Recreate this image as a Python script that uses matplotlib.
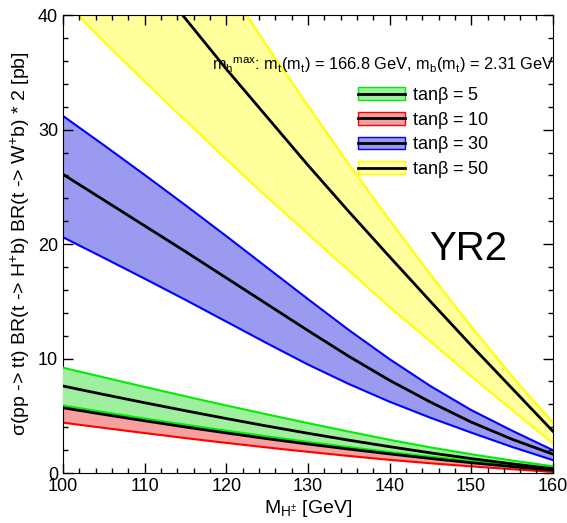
import matplotlib
matplotlib.use("Agg")
import matplotlib.pyplot as plt
from matplotlib.patches import Patch
from matplotlib.lines import Line2D
from matplotlib.legend_handler import HandlerTuple
from matplotlib.ticker import MultipleLocator

plt.rcParams['font.family'] = ['Liberation Sans', 'DejaVu Sans']
plt.rcParams['mathtext.default'] = 'regular'

# charged Higgs mass [GeV]
mass = [100, 105, 110, 115, 120, 125, 130, 135, 140, 145, 150, 155, 160]

# tanb = 5
tb5_mid = [7.6, 6.86, 6.14, 5.44, 4.76, 4.1, 3.47, 2.87, 2.3, 1.76, 1.26, 0.8, 0.38]
tb5_up = [9.2, 8.36, 7.52, 6.7, 5.9, 5.12, 4.36, 3.62, 2.9, 2.24, 1.64, 1.09, 0.59]
tb5_lo = [5.9, 5.32, 4.76, 4.22, 3.7, 3.2, 2.72, 2.26, 1.83, 1.43, 1.05, 0.7, 0.38]

# tanb = 10
tb10_mid = [5.7, 5.12, 4.56, 4.02, 3.5, 3.0, 2.53, 2.09, 1.67, 1.27, 0.9, 0.56, 0.25]
tb10_up = [6.85, 6.15, 5.5, 4.85, 4.2, 3.6, 3.05, 2.5, 2.0, 1.5, 1.08, 0.67, 0.3]
tb10_lo = [4.4, 3.94, 3.49, 3.05, 2.63, 2.23, 1.85, 1.49, 1.15, 0.85, 0.58, 0.33, 0.1]

# tanb = 30
tb30_mid = [26.1, 23.85, 21.6, 19.35, 17.05, 14.75, 12.45, 10.2, 8.1, 6.2, 4.45, 2.95, 1.65]
tb30_up = [31.2, 28.65, 26.05, 23.4, 20.7, 17.95, 15.2, 12.5, 9.95, 7.6, 5.5, 3.7, 2.0]
tb30_lo = [20.6, 18.8, 16.98, 15.13, 13.23, 11.33, 9.48, 7.78, 6.23, 4.83, 3.53, 2.28, 1.13]

# tanb = 50
tb50_mid = [53.1, 48.6, 44.1, 39.7, 35.3, 31.1, 26.9, 22.85, 18.9, 15.0, 11.15, 7.4, 3.65]
tb50_up = [66.2, 60.1, 54.1, 48.3, 42.7, 37.3, 32.1, 27.0, 22.1, 17.35, 12.8, 8.45, 4.4]
tb50_lo = [41.3, 37.7, 34.2, 30.8, 27.4, 24.1, 20.9, 17.7, 14.5, 11.5, 8.45, 5.5, 2.6]

labels = [r'tan$\beta$ = 5', r'tan$\beta$ = 10', r'tan$\beta$ = 30', r'tan$\beta$ = 50']

fig = plt.figure(figsize=(5.67, 5.23), dpi=100)
ax = fig.add_axes([0.111, 0.0956, 0.864, 0.8754])

# draw order: red under green so the red band only shows below the green one
series = [
    (tb10_lo, tb10_mid, tb10_up, '#ff0000', '#f7a0a0', 1),
    (tb5_lo, tb5_mid, tb5_up, '#00ee00', '#9ef09e', 3),
    (tb30_lo, tb30_mid, tb30_up, '#0000ff', '#9a9af0', 1),
    (tb50_lo, tb50_mid, tb50_up, '#ffff00', '#ffff9c', 1),
]
for lo, mid, up, edge, fill, z in series:
    ax.fill_between(mass, lo, up, facecolor=fill, edgecolor='none', zorder=z)
    ax.plot(mass, lo, color=edge, lw=1.5, zorder=z + 0.5)
    ax.plot(mass, up, color=edge, lw=1.5, zorder=z + 0.5)

for lo, mid, up, edge, fill, z in series:
    ax.plot(mass, mid, color='black', lw=2, zorder=6)

ax.set_xlim(100, 160)
ax.set_ylim(0, 40)
ax.xaxis.set_major_locator(MultipleLocator(10))
ax.xaxis.set_minor_locator(MultipleLocator(2))
ax.yaxis.set_major_locator(MultipleLocator(10))
ax.yaxis.set_minor_locator(MultipleLocator(2))
ax.tick_params(which='both', direction='in', top=True, right=True, labelsize=13)
ax.tick_params(which='major', length=7, width=1)
ax.tick_params(which='minor', length=3.5, width=1)

ax.set_xlabel(r'M$_{H^{\pm}}$ [GeV]', fontsize=14, labelpad=2)
ax.set_ylabel(r'$\sigma$(pp -> tt) BR(t -> H$^{+}$b) BR(t -> W$^{+}$b) * 2 [pb]', fontsize=14, labelpad=4)

ax.text(118.2, 35.2, r'm$_h$$^{max}$: m$_t$(m$_t$) = 166.8 GeV, m$_b$(m$_t$) = 2.31 GeV',
        fontsize=11.8, va='baseline', ha='left', zorder=7)
ax.text(144.9, 18.6, 'YR2', fontsize=29, va='baseline', ha='left', zorder=7)

legend_order = [1, 0, 2, 3]
handles = []
for i in legend_order:
    lo, mid, up, edge, fill, z = series[i]
    handles.append((Patch(facecolor=fill, edgecolor=edge, lw=1),
                    Line2D([], [], color='black', lw=2)))
ax.legend(handles, labels, handler_map={tuple: HandlerTuple(ndivide=1, pad=0)},
          loc='upper left', bbox_to_anchor=(0.583, 0.867), frameon=False,
          fontsize=13, handlelength=2.65, handleheight=0.72, labelspacing=0.2,
          handletextpad=0.35, borderpad=0)

fig.savefig('out.png', dpi=100)
